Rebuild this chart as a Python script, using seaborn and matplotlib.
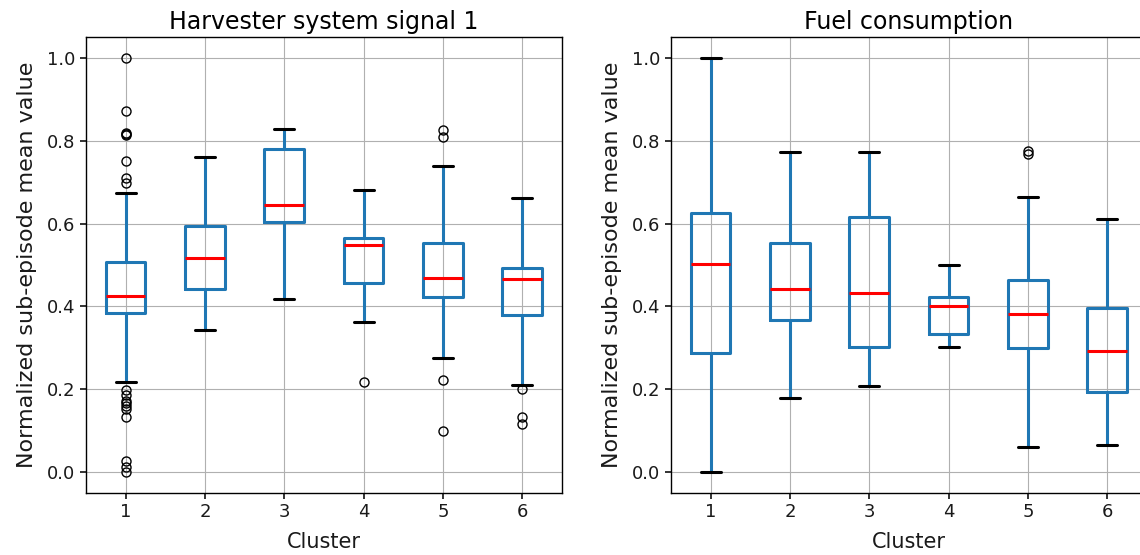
import matplotlib
matplotlib.use("Agg")
import matplotlib.pyplot as plt
import seaborn as sns

clusters = ["1", "2", "3", "4", "5", "6"]

# Harvester system signal 1
sig_med = [0.426, 0.518, 0.644, 0.549, 0.469, 0.467]
sig_q1 = [0.383, 0.441, 0.605, 0.456, 0.422, 0.378]
sig_q3 = [0.508, 0.594, 0.781, 0.566, 0.552, 0.492]
sig_lo = [0.218, 0.344, 0.419, 0.362, 0.276, 0.209]
sig_hi = [0.674, 0.762, 0.829, 0.682, 0.738, 0.662]
sig_out = [
    [1.0, 0.872, 0.820, 0.817, 0.814, 0.751, 0.709, 0.698,
     0.197, 0.186, 0.171, 0.166, 0.159, 0.153, 0.134, 0.026, 0.013, 0.0],
    [],
    [],
    [0.217],
    [0.825, 0.809, 0.222, 0.098],
    [0.200, 0.134, 0.115],
]

# Fuel consumption
fuel_med = [0.502, 0.442, 0.432, 0.402, 0.381, 0.293]
fuel_q1 = [0.288, 0.368, 0.301, 0.334, 0.300, 0.194]
fuel_q3 = [0.626, 0.552, 0.615, 0.422, 0.463, 0.396]
fuel_lo = [0.0, 0.179, 0.207, 0.302, 0.060, 0.064]
fuel_hi = [1.0, 0.772, 0.772, 0.501, 0.665, 0.611]
fuel_out = [[], [], [], [], [0.775, 0.769], []]


def make_stats(med, q1, q3, lo, hi, out):
    return [dict(med=m, q1=a, q3=b, whislo=l, whishi=h, fliers=f)
            for m, a, b, l, h, f in zip(med, q1, q3, lo, hi, out)]


sns.set_theme(style="ticks", rc={
    "axes.edgecolor": "black", "axes.linewidth": 1.0,
    "text.color": "black", "axes.labelcolor": "#1a1a1a",
    "xtick.color": "#1a1a1a", "ytick.color": "#1a1a1a",
    "xtick.major.size": 4, "ytick.major.size": 4,
    "grid.color": "#b0b0b0", "grid.linewidth": 0.8,
})
plt.rcParams["font.family"] = ["DejaVu Sans"]

fig = plt.figure(figsize=(11.4, 5.55), dpi=100)
ax1 = fig.add_axes([0.0754, 0.1123, 0.4175, 0.8205])
ax2 = fig.add_axes([0.5886, 0.1123, 0.4175, 0.8205])

blue = "#1f77b4"
panels = [
    (ax1, make_stats(sig_med, sig_q1, sig_q3, sig_lo, sig_hi, sig_out), "Harvester system signal 1"),
    (ax2, make_stats(fuel_med, fuel_q1, fuel_q3, fuel_lo, fuel_hi, fuel_out), "Fuel consumption"),
]

for ax, stats, title in panels:
    ax.bxp(stats, positions=range(1, len(clusters) + 1), widths=0.5,
           boxprops=dict(color=blue, linewidth=2.2),
           whiskerprops=dict(color=blue, linewidth=2.2),
           capprops=dict(color="black", linewidth=2.2),
           medianprops=dict(color="red", linewidth=2.2),
           flierprops=dict(marker="o", markerfacecolor="none",
                           markeredgecolor="black", markersize=6.5))
    ax.set_xticks(range(1, len(clusters) + 1))
    ax.set_xticklabels(clusters)
    ax.set_xlim(0.5, 6.5)
    ax.set_ylim(-0.05, 1.05)
    ax.set_yticks([0.0, 0.2, 0.4, 0.6, 0.8, 1.0])
    ax.grid(True)
    ax.set_axisbelow(True)
    ax.tick_params(labelsize=13)
    ax.set_title(title, fontsize=17)
    ax.set_xlabel("Cluster", fontsize=15, labelpad=8)
    ax.set_ylabel("Normalized sub-episode mean value", fontsize=16, labelpad=7)

fig.savefig("out.png", dpi=100)
